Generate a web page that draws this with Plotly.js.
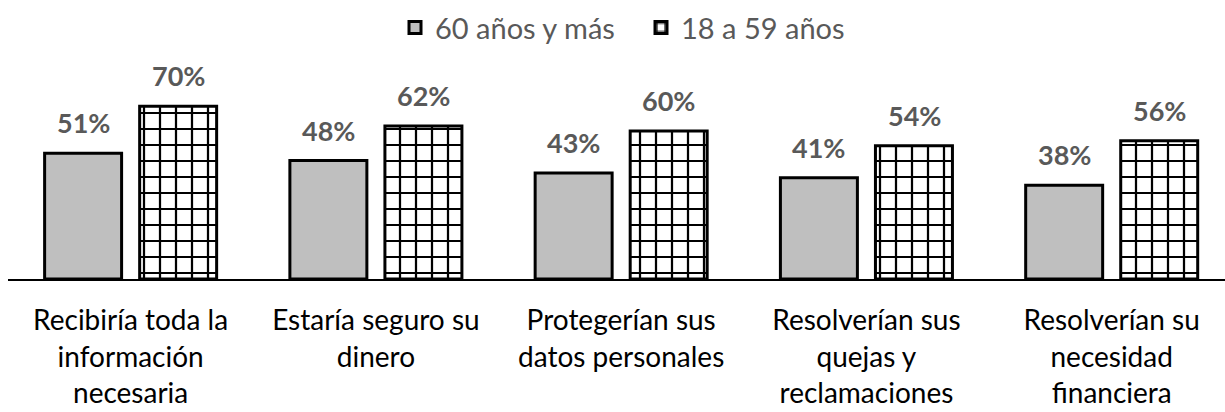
<!DOCTYPE html>
<html>
<head>
<meta charset="utf-8">
<script src="https://cdn.plot.ly/plotly-3.0.1.min.js"></script>
<style>
  html, body { margin: 0; padding: 0; background: #ffffff; }
  #chart { width: 1225px; height: 412px; }
</style>
</head>
<body>
<div id="chart"></div>
<script>
// Categories (x axis) and the two age groups
const categories = [
    'Recibiría toda la<br>información<br>necesaria',
    'Estaría seguro su<br>dinero',
    'Protegerían sus<br>datos personales',
    'Resolverían sus<br>quejas y<br>reclamaciones',
    'Resolverían su<br>necesidad<br>financiera'
];
const seriesNames = ['60 años y más', '18 a 59 años'];
const olderValues = [0.51, 0.48, 0.43, 0.41, 0.38];
const youngerValues = [0.70, 0.62, 0.60, 0.54, 0.56];

const labelFont = 'Lato, "Open Sans", sans-serif';
const catIndex = categories.map((c, i) => i);

const traces = [
    {
        x: catIndex,
        y: olderValues,
        type: 'bar',
        name: seriesNames[0],
        marker: {
            color: '#bfbfbf',
            line: { color: '#000000', width: 3 }
        },
        hoverinfo: 'skip'
    },
    {
        x: catIndex,
        y: youngerValues,
        type: 'bar',
        name: seriesNames[1],
        marker: {
            color: '#ffffff',
            line: { color: '#000000', width: 3 },
            pattern: {
                shape: '+',
                size: 16,
                solidity: 0.26,
                fgcolor: '#000000',
                fgopacity: 1,
                bgcolor: '#ffffff',
                fillmode: 'overlay'
            }
        },
        hoverinfo: 'skip'
    }
];

// Value labels above each bar (offset by half a slot inside each group)
const slotOffset = 0.194;
const annotations = [];
olderValues.forEach((v, i) => {
    annotations.push({
        x: i - slotOffset, y: v, xref: 'x', yref: 'y',
        text: '<b>' + Math.round(v * 100) + '%</b>',
        showarrow: false, yanchor: 'bottom', yshift: 12,
        font: { family: labelFont, size: 27, color: '#595959' }
    });
});
youngerValues.forEach((v, i) => {
    annotations.push({
        x: i + slotOffset, y: v, xref: 'x', yref: 'y',
        text: '<b>' + Math.round(v * 100) + '%</b>',
        showarrow: false, yanchor: 'bottom', yshift: 12,
        font: { family: labelFont, size: 27, color: '#595959' }
    });
});

const layout = {
    width: 1225,
    height: 412,
    paper_bgcolor: '#ffffff',
    plot_bgcolor: '#ffffff',
    margin: { l: 8, r: 0, t: 57, b: 133 },
    barmode: 'group',
    bargap: 0.225,
    bargroupgap: 0.19,
    font: { family: labelFont, color: '#000000' },
    xaxis: {
        type: 'linear',
        range: [-0.5, 4.462],
        tickmode: 'array',
        tickvals: catIndex,
        ticktext: categories,
        showline: true,
        linecolor: '#000000',
        linewidth: 1.5,
        showgrid: false,
        zeroline: false,
        ticks: '',
        ticklabelstandoff: 16,
        tickfont: { family: labelFont, size: 28, color: '#000000' }
    },
    yaxis: {
        range: [0, 0.9],
        showgrid: false,
        zeroline: false,
        showline: false,
        showticklabels: false,
        ticks: ''
    },
    showlegend: true,
    legend: {
        orientation: 'h',
        x: 0.318,
        xanchor: 'left',
        xref: 'paper',
        y: 0.995,
        yref: 'container',
        yanchor: 'top',
        itemwidth: 30,
        entrywidth: 201,
        entrywidthmode: 'pixels',
        font: { family: labelFont, size: 29, color: '#595959' },
        itemclick: false,
        itemdoubleclick: false
    },
    annotations: annotations
};

Plotly.newPlot('chart', traces, layout, { displayModeBar: false, staticPlot: true });
</script>
</body>
</html>
